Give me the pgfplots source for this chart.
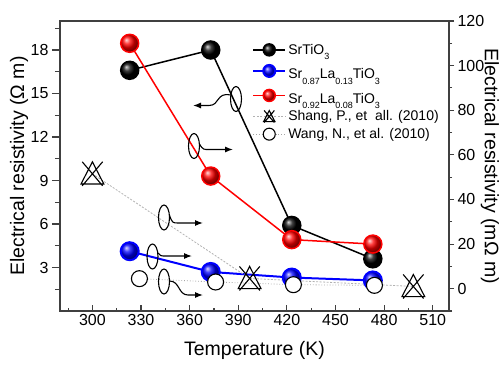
\documentclass[border=0pt]{standalone}
\usepackage{fontspec}
\setmainfont{Liberation Sans}
\usepackage{pgfplots}
\pgfplotsset{compat=1.18}
\usetikzlibrary{arrows.meta}

\pgfdeclareplotmark{ballk}{\shade[ball color=black] (0pt,0pt) circle[radius=\pgfplotmarksize];}
\pgfdeclareplotmark{ballr}{\shade[ball color=red] (0pt,0pt) circle[radius=\pgfplotmarksize];}
\pgfdeclareplotmark{ballb}{\shade[ball color=blue] (0pt,0pt) circle[radius=\pgfplotmarksize];}
\pgfdeclareplotmark{tricross}{%
  \pgfpathmoveto{\pgfqpoint{0pt}{\pgfplotmarksize}}%
  \pgfpathlineto{\pgfqpoint{0.95\pgfplotmarksize}{-0.85\pgfplotmarksize}}%
  \pgfpathlineto{\pgfqpoint{-0.95\pgfplotmarksize}{-0.85\pgfplotmarksize}}%
  \pgfpathclose
  \pgfpathmoveto{\pgfqpoint{-0.85\pgfplotmarksize}{\pgfplotmarksize}}%
  \pgfpathlineto{\pgfqpoint{0.85\pgfplotmarksize}{-\pgfplotmarksize}}%
  \pgfpathmoveto{\pgfqpoint{0.85\pgfplotmarksize}{\pgfplotmarksize}}%
  \pgfpathlineto{\pgfqpoint{-0.85\pgfplotmarksize}{-\pgfplotmarksize}}%
  \pgfusepathqstroke}

\newcommand\sub[1]{\raisebox{-0.4em}{\fontsize{9}{9}\selectfont #1}}

\pgfplotsset{
  base/.style={scale only axis, width=389pt, height=290pt,
    xmin=280, xmax=520,
    /pgf/number format/assume math mode=true,
    tick label style={font=\fontsize{16}{16}\selectfont, black},
    label style={font=\fontsize{19.5}{20}\selectfont},
    axis line style={line width=1.1pt, black!75},
    every tick/.style={line width=1.1pt, black!75},
    clip=false},
}

\begin{document}
\begin{tikzpicture}
% frame and x axis
\begin{axis}[base, ymin=0, ymax=20, ytick=\empty,
  xtick={300,330,...,510}, minor xtick={285,315,...,515},
  xtick pos=left, tick align=inside,
  major tick length=6pt, minor tick length=3.5pt,
  xlabel={Temperature (K)},
  xlabel style={at={(axis description cs:0.5,-0.135)}, anchor=center}]
\end{axis}
% left y axis
\begin{axis}[base, ymin=0, ymax=20, axis x line=none, axis y line*=left,
  ytick={3,6,...,18}, minor ytick={1.5,4.5,...,19.5},
  tick align=outside, major tick length=8pt, minor tick length=5pt,
  ylabel={Electrical resistivity (Ω m)},
  ylabel style={at={(axis description cs:-0.105,0.5)}, anchor=center}]
\addplot[black, line width=1.5pt, mark=ballk, mark size=9pt] coordinates {
  (323,16.6) (373,18.0) (423,5.9) (473,3.6)};
\end{axis}
% right y axis
\begin{axis}[base, ymin=-10, ymax=120, axis x line=none, axis y line*=right,
  ytick={0,20,...,120}, minor ytick={-10,10,...,110},
  tick align=outside, major tick length=5pt, minor tick length=3pt,
  ylabel={Electrical resistivity (mΩ m)},
  ylabel style={at={(axis description cs:1.105,0.5)}, anchor=center, rotate=180},
  legend style={draw=none, fill=none, font=\fontsize{14}{16}\selectfont,
    at={(axis description cs:0.486,0.935)}, anchor=north west, legend cell align=left,
    row sep=2pt},
  legend image code/.code={\draw[mark repeat=2,mark phase=2,#1] plot coordinates {(0pt,0pt) (16pt,0pt) (32pt,0pt)};},
  legend image post style={mark size=6pt}]
\addlegendimage{black, line width=1.5pt, mark=ballk}
\addlegendentry{SrTiO\sub{3}}
\addplot[blue, line width=2pt, mark=ballb, mark size=9pt] coordinates {
  (323,16.8) (373,7.5) (423,5) (473,3.7)};
\addlegendentry{\rule{0pt}{17pt}Sr\sub{0.87}La\sub{0.13}TiO\sub{3}}
\addplot[red, line width=1.5pt, mark=ballr, mark size=9pt] coordinates {
  (323,110) (373,50.5) (423,22) (473,20)};
\addlegendentry{\rule{0pt}{17pt}Sr\sub{0.92}La\sub{0.08}TiO\sub{3}}
\addplot[gray!60, line width=0.8pt, dash pattern=on 2pt off 1.5pt, mark=tricross, mark size=12pt,
  mark options={black, solid, line width=1.1pt}] coordinates {
  (300,51.5) (397,4.6) (498,1)};
\addlegendentry{Shang, P., et\ \ all. (2010)}
\addplot[gray!70, line width=0.8pt, dotted, mark=*, mark size=8pt,
  mark options={black, fill=white, solid, line width=1.1pt}] coordinates {
  (329,4.5) (376,3) (424,1.8) (474,1.5)};
\addlegendentry{Wang, N., et al. (2010)}
\end{axis}
% annotations (ellipses and arrows)
\begin{scope}[shift={(-60pt,311pt)}, x=1pt, y=-1pt, line width=1.1pt, black]
 \draw (236,99) ellipse [x radius=5.5pt, y radius=12.5pt];
 \draw[-{Latex[length=8pt,width=6pt]}] (230.5,95) .. controls (216,92) and (220,105.5) .. (209,105.5) -- (193,105.5);
 \draw (194,146) ellipse [x radius=5.5pt, y radius=12.5pt];
 \draw[-{Latex[length=8pt,width=6pt]}] (199.5,144) .. controls (203,150) and (204,149.5) .. (209,149.5) -- (233,149.5);
 \draw (164,217.5) ellipse [x radius=5.5pt, y radius=12.5pt];
 \draw[-{Latex[length=8pt,width=6pt]}] (169.5,215) .. controls (172,223) and (173,223) .. (178,223) -- (203,223);
 \draw (152.5,256.5) ellipse [x radius=5.5pt, y radius=12.5pt];
 \draw[-{Latex[length=8pt,width=6pt]}] (158,253) .. controls (160,256) and (161,256) .. (166,256) -- (192,256);
 \draw (164,281.5) ellipse [x radius=5.5pt, y radius=12.5pt];
 \draw[-{Latex[length=8pt,width=6pt]}] (169.5,281) .. controls (180,281) and (178,295) .. (188,295) -- (203,295);
\end{scope}
\pgfresetboundingbox
\path[use as bounding box] (-60pt,-53pt) rectangle (440pt,311pt);
\end{tikzpicture}
\end{document}
